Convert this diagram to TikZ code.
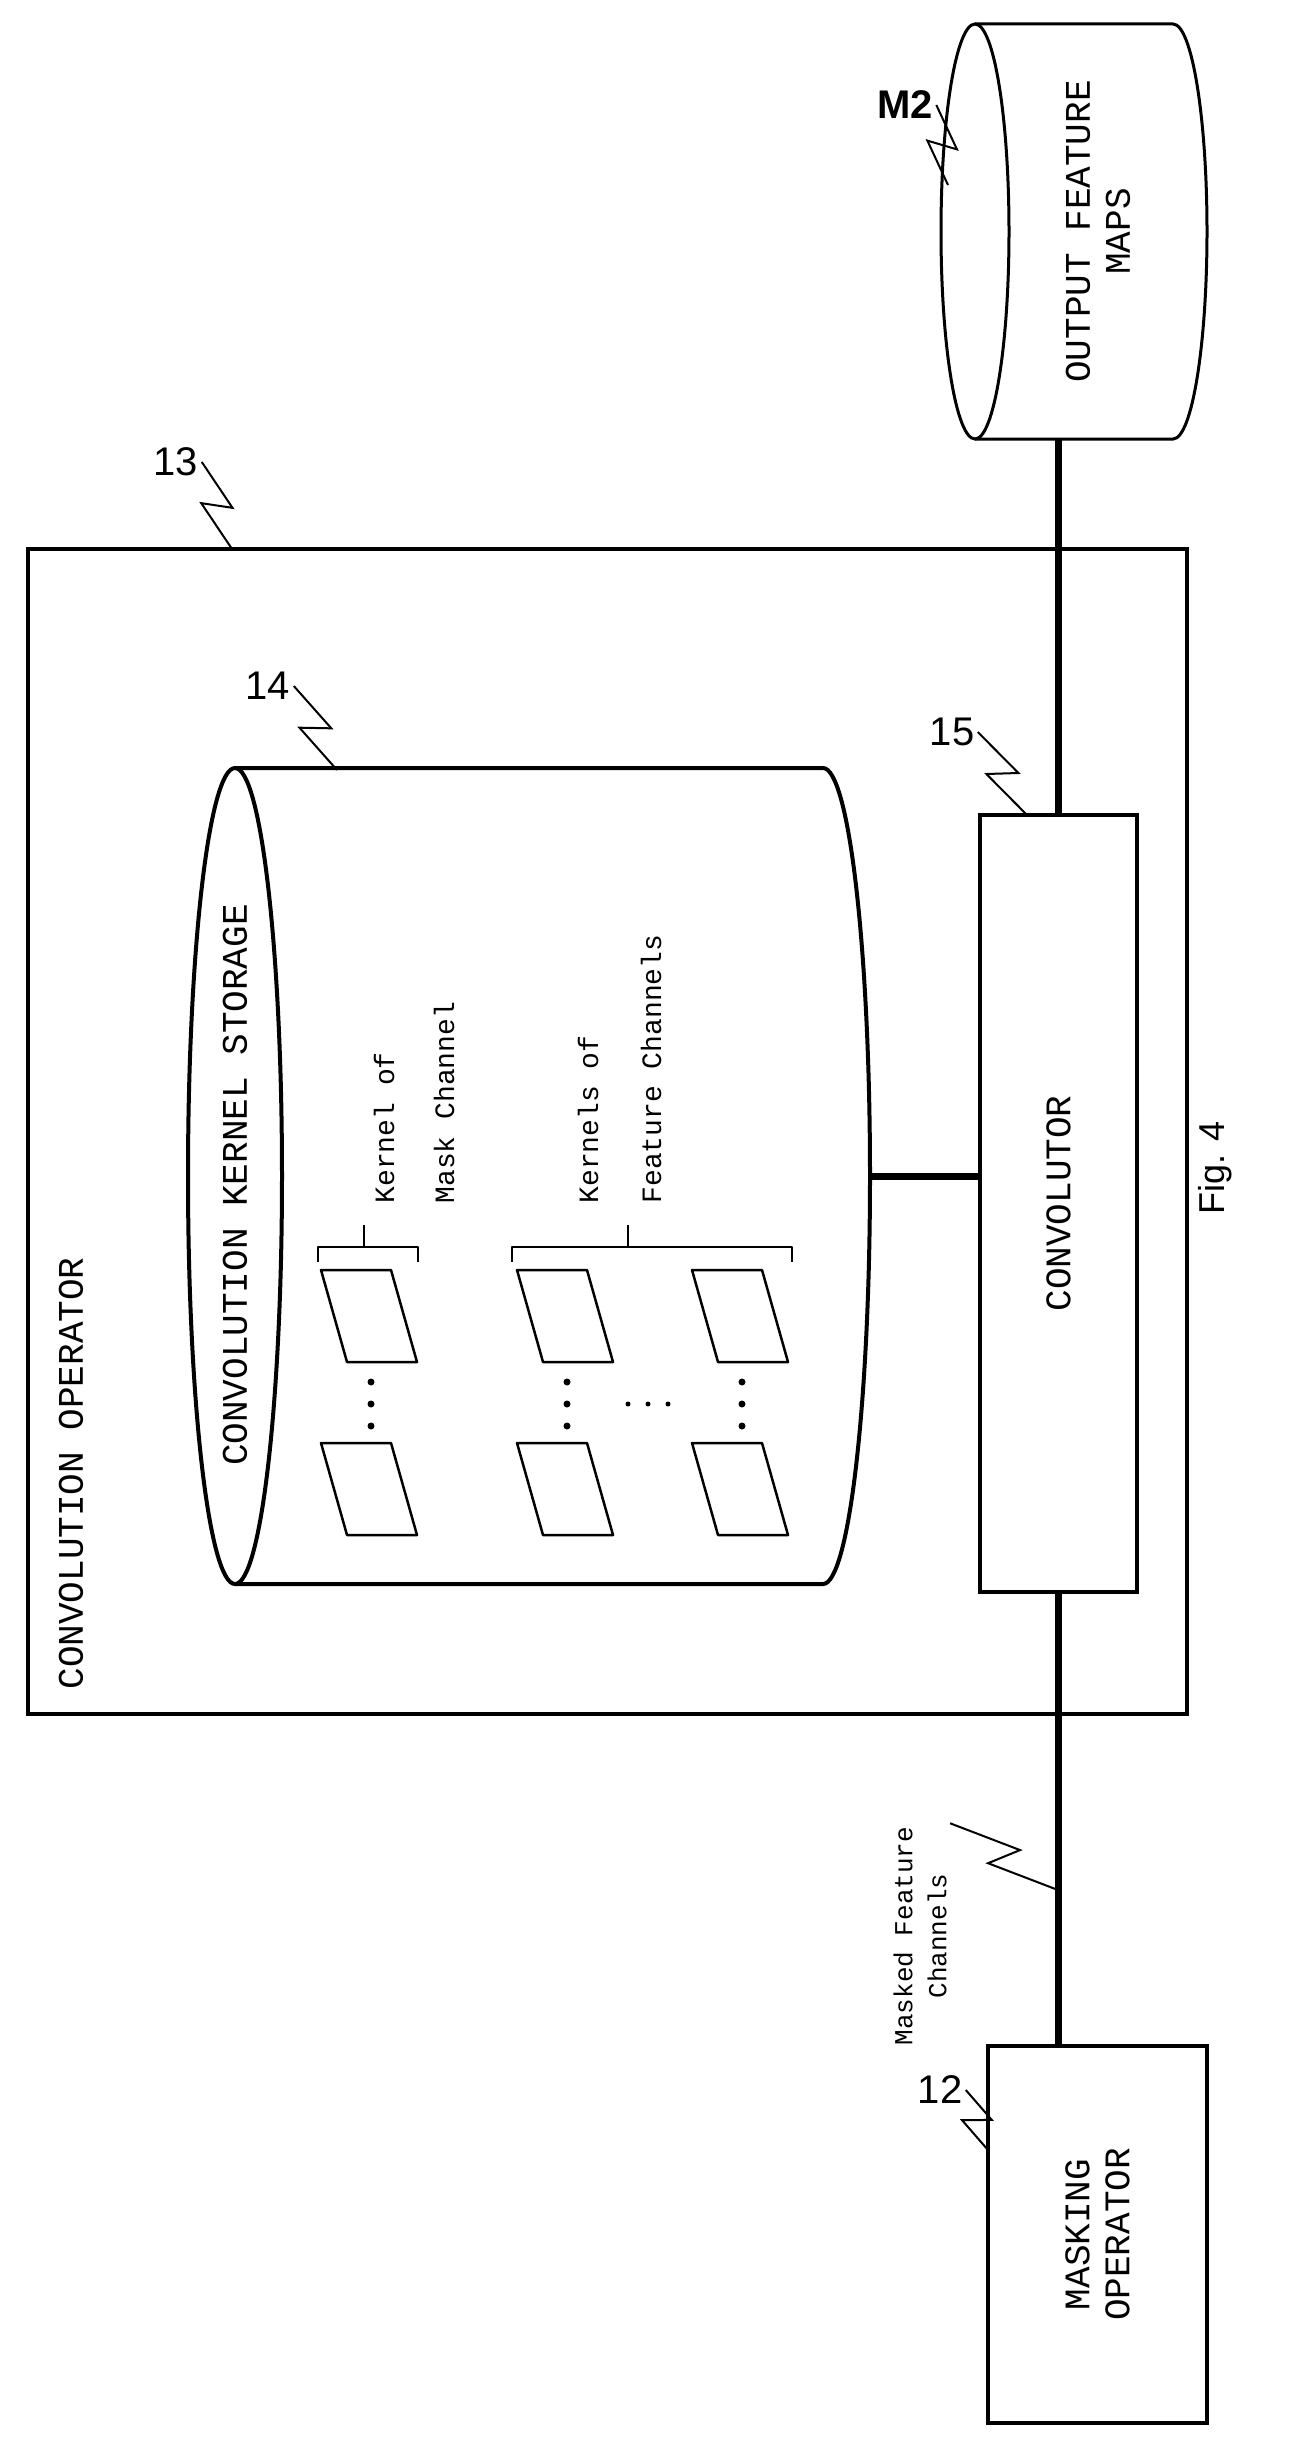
\documentclass[tikz,border=0pt]{standalone}
\usepackage{fontspec}
\setmainfont{Liberation Sans}
\newfontfamily\monof{Liberation Mono}
\usetikzlibrary{calc}
\begin{document}
\begin{tikzpicture}[x=1pt,y=-1pt,
  box/.style={draw,line width=4pt,inner sep=0pt},
  conn/.style={line width=7pt},
  thin/.style={line width=2.5pt,line join=round},
  lbl/.style={font=\monof\fontsize{36}{40}\selectfont,rotate=90,align=center},
  klbl/.style={font=\monof\fontsize{28}{32}\selectfont,rotate=90,anchor=west},
  num/.style={font=\fontsize{40}{40}\selectfont},
  squig/.style={line width=2pt,to path={-- ($(\tikztostart)!0.58!(\tikztotarget)!14pt!90:(\tikztotarget)$) -- ($(\tikztostart)!0.42!(\tikztotarget)!14pt!-90:(\tikztotarget)$) -- (\tikztotarget)}},
  dot/.style={circle,fill,inner sep=0pt,minimum size=7pt}]
\useasboundingbox (0,0) rectangle (1295,2448);
\fill[white] (0,0) rectangle (1295,2448);
% outer box 13
\node[box,minimum width=1159pt,minimum height=1165pt] (op) at (607.5,1131.5) {};
\node[lbl,anchor=west] (optxt) at (71,1693) {CONVOLUTION OPERATOR};
% kernel storage cylinder 14
\coordinate (cylR) at (870,1176);
\draw[line width=4pt] (235,768) -- (823,768) arc[start angle=90,end angle=-90,x radius=47pt,y radius=408pt] -- (235,1584);
\draw[line width=4pt] (235,1176) ellipse [x radius=47pt,y radius=408pt];
\node[lbl] (kst) at (235,1185) {CONVOLUTION KERNEL STORAGE};
% parallelograms
\foreach \c/\x in {1/321,2/517,3/692}{
  \foreach \r/\y in {u/1270,l/1443}{
    \draw[thin] (\x,\y) -- (\x+70,\y) -- (\x+96,\y+92) -- (\x+26,\y+92) -- cycle;
  }
}
\foreach \x in {371,567,742}{
  \foreach \y in {1382,1404,1426} \node[dot] at (\x,\y) {};
}
\foreach \x in {628,648,668} \node[dot,minimum size=5pt] at (\x,1404) {};
% braces
\draw[thin] (318,1262) -- (318,1247) -- (418,1247) -- (418,1262) (364,1247) -- (364,1225);
\draw[thin] (512,1262) -- (512,1247) -- (792,1247) -- (792,1262) (628,1247) -- (628,1225);
\node[klbl] (k1) at (384,1207) {Kernel of};
\node[klbl] (k2) at (444,1207) {Mask Channel};
\node[klbl] (k3) at (588,1207) {Kernels of};
\node[klbl] (k4) at (651,1207) {Feature Channels};
% convolutor 15
\node[box,minimum width=157pt,minimum height=777pt] (conv) at (1058.5,1203.5) {};
\node[lbl] at (conv.center) {CONVOLUTOR};
% output cylinder M2
\draw[line width=3pt] (975,24) -- (1173,24) arc[start angle=90,end angle=-90,x radius=34pt,y radius=207.5pt] -- (975,439);
\draw[line width=3pt] (975,231.5) ellipse [x radius=34pt,y radius=207.5pt];
\coordinate (outB) at (1058.5,439);
\node[lbl] (outtxt) at (1098,231.5) {OUTPUT FEATURE\\MAPS};
% masking operator 12
\node[box,minimum width=219pt,minimum height=377pt] (mask) at (1097.5,2234.5) {};
\node[lbl] at (mask.center) {MASKING\\OPERATOR};
% connectors
\draw[conn] (cylR) -- (conv.west |- cylR);
\draw[conn] (conv.north) -- (outB);
\draw[conn] (mask.north -| conv.south) -- (conv.south);
\node[lbl,font=\monof\fontsize{26}{34}\selectfont] (mfc) at (920,1936) {Masked Feature\\Channels};
% reference numerals
\node[num] (n13) at (176,462) {13};
\node[num] (n14) at (268,686) {14};
\node[num] (n15) at (952,732) {15};
\node[num,font=\bfseries\fontsize{40}{40}\selectfont] (nm2) at (905,105) {M2};
\node[num] (n12) at (940,2090) {12};
\coordinate (e13) at (232,549);
\coordinate (e14) at (337,770);
\coordinate (e15) at (1027,815);
\coordinate (em2) at (948,185);
\coordinate (e12) at (988,2150);
\coordinate (emf) at (1058,1890);
\draw[squig] (n13.east) to (e13);
\draw[squig] (n14.east) to (e14);
\draw[squig] (n15.east) to (e15);
\draw[squig] (nm2.east) to (em2);
\draw[squig] (n12.east) to (e12);
\draw[squig] (mfc.south east) to (emf);
\node[rotate=90,font=\fontsize{36}{40}\selectfont] (fig) at (1215,1168) {Fig. 4};
\end{tikzpicture}
\end{document}
